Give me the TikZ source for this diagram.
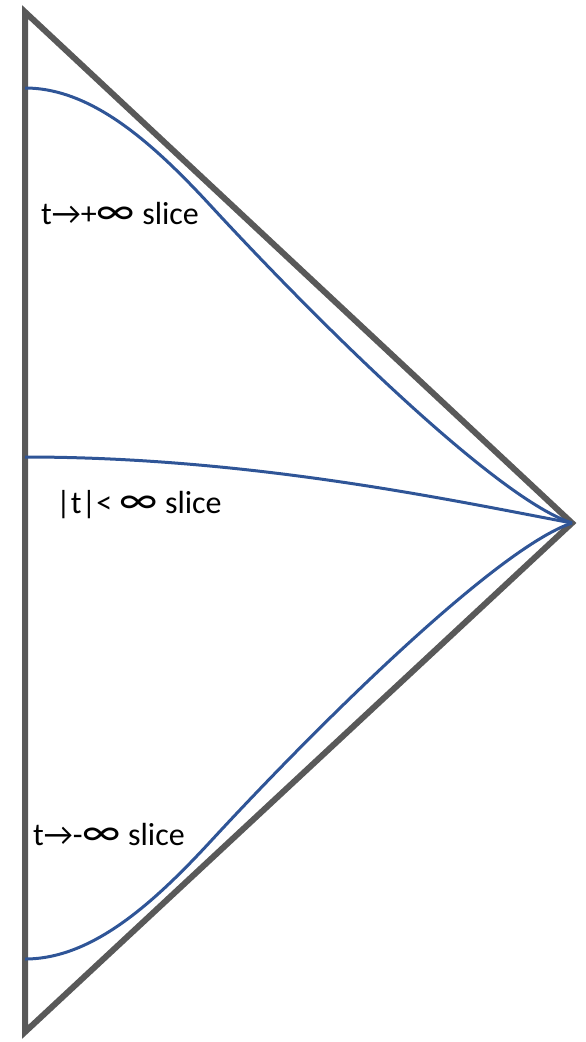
\documentclass[tikz,border=0pt]{standalone}
\usepackage{fontspec}
\usepackage{graphicx}
\setmainfont{Carlito}
\newcommand{\bigInf}{\scalebox{1.4}[1.25]{∞}}
\begin{document}
\begin{tikzpicture}[x=1pt, y=-1pt,
        edge/.style={line width=6pt, draw=black!65, line join=miter},
        slice/.style={line width=3pt, draw=sliceblue},
        lbl/.style={anchor=base west, inner sep=0pt, font=\fontsize{32}{38}\selectfont}]
        \definecolor{sliceblue}{HTML}{2F5597}
        \useasboundingbox (0,0) rectangle (586,1042);

        % ==================== 三角形边界 ====================
        \coordinate (top) at (25,12);
        \coordinate (bot) at (25,1032);
        \coordinate (apex) at (572,523);
        \draw[edge] (top) -- (apex) -- (bot) -- cycle;

        % ==================== 三条切片 ====================
        \coordinate (sp) at (25,88);
        \coordinate (s0) at (25,457);
        \coordinate (sm) at (25,959);
        % t -> +inf
        \draw[slice] (sp) .. controls (90,88) and (150,140) .. (210,205)
            .. controls (330,335) and (500,500) .. (apex);
        % |t| < inf
        \draw[slice] (s0) .. controls (250,457) and (450,500) .. (apex);
        % t -> -inf
        \draw[slice] (sm) .. controls (90,959) and (150,907) .. (210,842)
            .. controls (330,712) and (500,547) .. (apex);

        % 文字
        \node[lbl] (lp) at (41,224) {t→+\bigInf\ slice};
        \node[lbl] (l0) at (56,513) {|t|< \bigInf\ slice};
        \node[lbl] (lm) at (33,845) {t→-\bigInf\ slice};

    \end{tikzpicture}
\end{document}
